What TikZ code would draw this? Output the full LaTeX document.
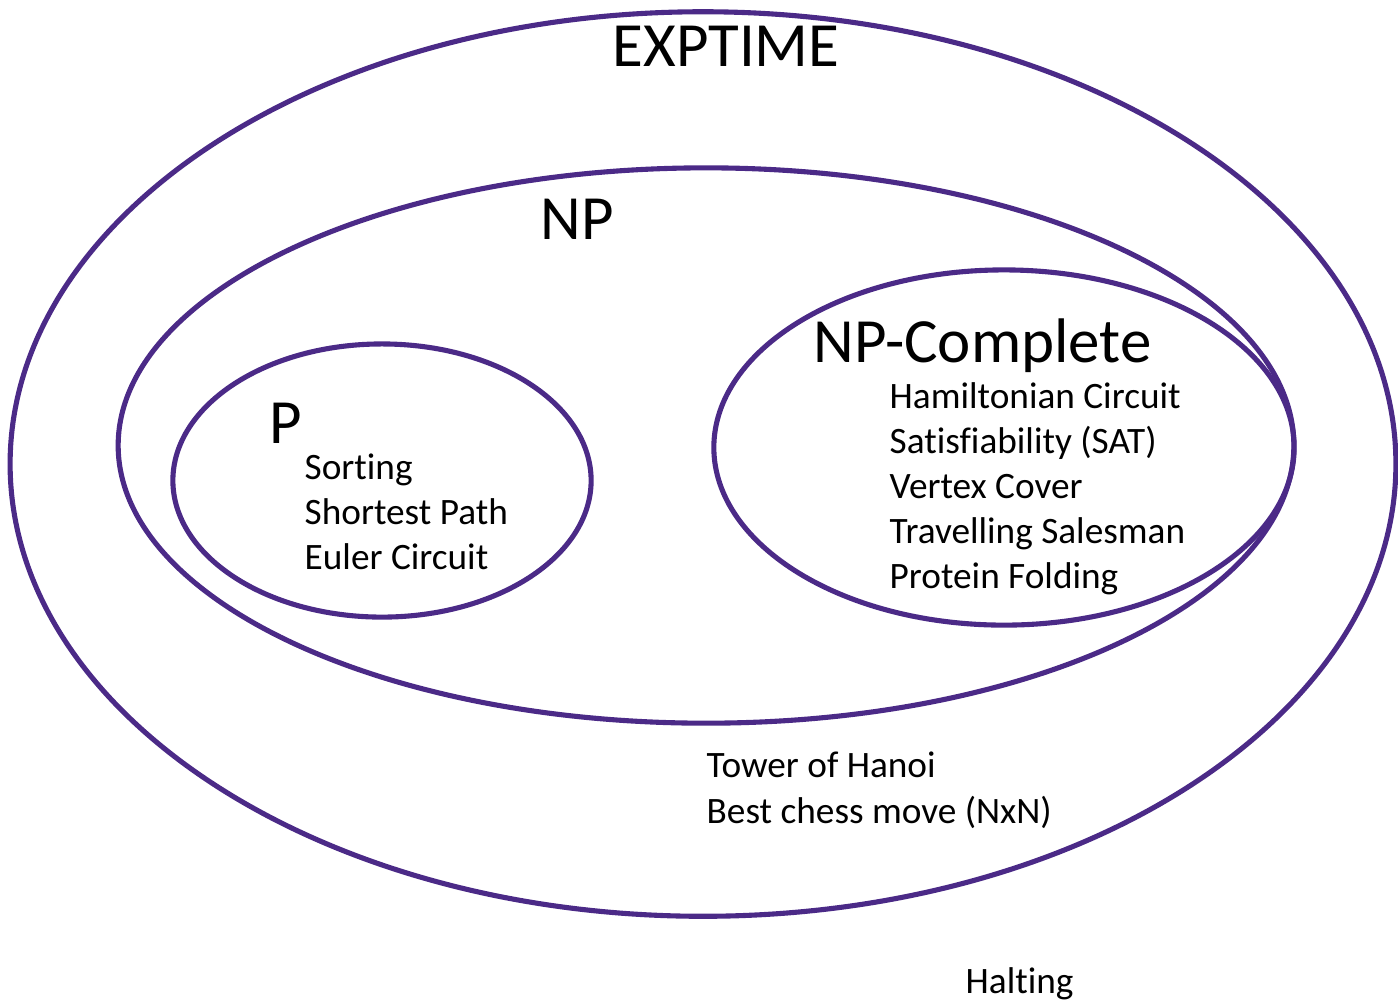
\documentclass[tikz,border=0pt]{standalone}
\usepackage{fontspec}
\setmainfont[RawFeature={-liga;-clig;-calt;-dlig}]{Carlito}
\definecolor{setline}{HTML}{4B2A87}
\begin{document}
\begin{tikzpicture}[x=0.01cm,y=-0.01cm,
  setring/.style={draw=setline,line width=1.45pt},
  bigtxt/.style={anchor=base west,inner sep=0pt,font=\fontsize{17.9pt}{21pt}\selectfont},
  smalltxt/.style={anchor=base west,inner sep=0pt,font=\fontsize{10.6pt}{13pt}\selectfont}]
\useasboundingbox (0,0) rectangle (1398,999);
% ellipses
\draw[setring] (703,464) ellipse [x radius=6.925cm, y radius=4.52cm];
\draw[setring] (706,445.5) ellipse [x radius=5.875cm, y radius=2.775cm];
\draw[setring] (382,480.5) ellipse [x radius=2.09cm, y radius=1.365cm];
\draw[setring] (1004,447.5) ellipse [x radius=2.90cm, y radius=1.775cm];
% titles
\node[bigtxt] (exptime) at (612,66) {EXPTIME};
\node[bigtxt] (np) at (540,239) {NP};
\node[bigtxt] (npc) at (813,362) {NP-Complete};
\node[bigtxt] (p) at (269,443) {P};
% P problems
\node[smalltxt] (sorting) at (304,479) {Sorting};
\node[smalltxt] (shortest) at (304,524) {Shortest Path};
\node[smalltxt] (euler) at (304,569) {Euler Circuit};
% NP-complete problems
\node[smalltxt] (hamilton) at (889,408) {Hamiltonian Circuit};
\node[smalltxt] (sat) at (889,453) {Satisfiability (SAT)};
\node[smalltxt] (vertex) at (889,498) {Vertex Cover};
\node[smalltxt] (tsp) at (889,543) {Travelling Salesman};
\node[smalltxt] (protein) at (889,588) {Protein Folding};
% EXPTIME problems
\node[smalltxt] (hanoi) at (706,777) {Tower of Hanoi};
\node[smalltxt] (chess) at (706,823) {Best chess move (NxN)};
% outside
\node[smalltxt] (halting) at (965,993) {Halting};
\end{tikzpicture}
\end{document}
